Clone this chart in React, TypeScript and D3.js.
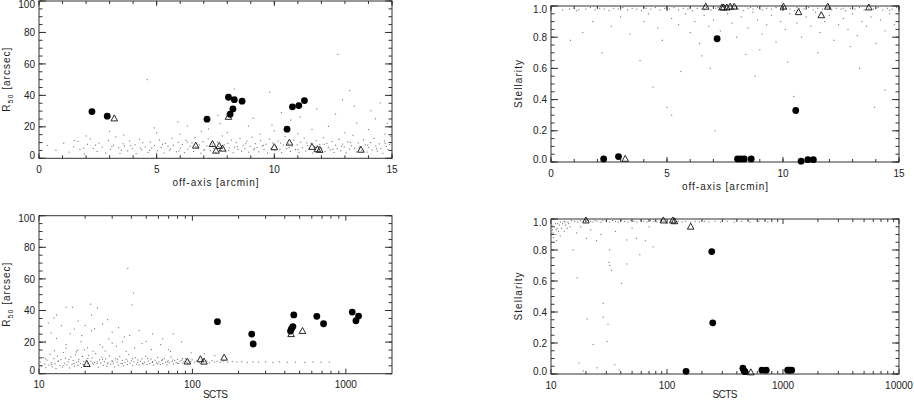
import React from 'react';
import * as d3 from 'd3';

type Pt = [number, number];

// ---------- Panel 1: off-axis vs R50 ----------
const P1_DOTS: Pt[] = [
  [0.35,8.2],[0.72,5.1],[1.05,9.6],[1.28,3.9],[1.47,7.3],[1.66,10.8],[1.74,5.6],[1.93,2.8],[2.06,8.9],[2.18,12.4],[2.31,6.2],[2.47,4.3],[2.55,9.7],[2.68,7.1],[2.83,3.4],[2.95,11.2],[3.04,5.8],[3.17,8.4],[3.26,13.6],[3.39,6.7],[3.44,3.1],[3.58,9.2],[3.63,7.8],[3.77,4.6],[3.85,10.9],[3.96,6.1],[4.08,8.6],[4.13,2.9],[4.27,12.1],[4.36,5.4],[4.41,9.9],[4.52,7.2],[4.64,3.7],[4.73,10.3],[4.79,6.6],[4.91,8.1],[5.03,4.8],[5.12,11.7],[5.19,6.9],[5.31,3.3],[5.37,9.4],[5.48,7.6],[5.55,5.2],[5.66,12.8],[5.71,8.3],[5.84,4.1],[5.92,10.1],[6.01,6.4],[6.09,8.8],[6.18,3.6],[6.24,11.4],[6.33,5.9],[6.42,7.7],[6.5,9.8],[6.57,4.4],[6.63,13.2],[6.74,6.8],[6.81,8.5],[6.88,3.2],[6.97,10.6],[7.04,5.5],[7.13,7.9],[7.19,12.3],[7.28,4.7],[7.35,9.1],[7.43,6.3],[7.51,3.8],[7.58,10.4],[7.64,7.4],[7.73,5.1],[7.79,14.2],[7.87,8.7],[7.94,4.2],[8.02,9.5],[8.09,6.6],[8.17,11.6],[8.25,3.5],[8.31,7.1],[8.38,9.9],[8.46,5.7],[8.54,12.7],[8.61,4.5],[8.68,8.2],[8.75,6.1],[8.83,10.8],[8.91,3.9],[8.97,7.6],[9.05,13.4],[9.12,5.3],[9.19,9.3],[9.27,6.9],[9.34,4.1],[9.42,11.3],[9.49,7.8],[9.56,5.6],[9.64,8.9],[9.71,3.4],[9.79,12.2],[9.86,6.4],[9.93,9.7],[10.02,4.9],[10.09,7.3],[10.16,10.9],[10.24,5.8],[10.31,3.6],[10.38,8.4],[10.46,13.8],[10.53,6.2],[10.6,9.1],[10.68,4.4],[10.75,7.7],[10.83,11.5],[10.9,5.5],[10.97,8.6],[11.05,3.8],[11.12,10.2],[11.19,6.7],[11.27,12.9],[11.34,4.6],[11.41,8.1],[11.49,6.0],[11.56,9.6],[11.63,3.3],[11.71,7.5],[11.78,11.1],[11.86,5.2],[11.93,8.8],[12.01,6.5],[12.08,13.1],[12.16,4.3],[12.23,9.4],[12.3,7.0],[12.38,5.4],[12.45,10.7],[12.53,3.7],[12.6,8.3],[12.67,6.1],[12.75,12.0],[12.82,4.8],[12.9,9.0],[12.97,7.2],[13.05,3.5],[13.12,10.5],[13.2,5.9],[13.27,8.0],[13.34,14.6],[13.42,6.4],[13.49,4.0],[13.57,9.8],[13.64,7.4],[13.72,5.0],[13.79,11.8],[13.86,8.5],[13.94,3.9],[14.01,6.8],[14.09,10.0],[14.16,5.3],[14.24,12.6],[14.31,7.9],[14.38,4.5],[14.46,9.2],[14.53,6.3],[14.61,3.2],[14.68,11.0],[14.76,7.6],[14.83,5.7],[14.9,8.7],[14.96,13.9],
  [5.25,8.9],[5.6,6.0],[5.95,4.6],[6.3,10.3],[6.67,7.3],[7.0,5.1],[7.38,8.0],[7.69,6.7],[8.06,4.9],[8.42,7.4],[8.79,9.3],[9.16,6.1],[9.53,8.2],[9.9,5.4],[10.27,9.7],[10.64,6.8],[11.01,5.6],[11.38,9.9],[11.75,6.9],[12.12,8.9],[12.49,5.8],[12.86,7.7],[13.23,10.1],[13.6,6.6],[13.97,8.4],[14.34,6.0],[14.71,9.5],[3.1,7.5],[3.5,5.0],[3.9,8.0],[4.3,6.5],[4.7,5.0],[2.4,8.4],[1.9,6.4],
  [3.6,14.8],[4.6,50],[4.9,19.3],[5.9,23.1],[6.3,20.4],[6.9,17.2],[7.2,18.6],[7.6,27.3],[7.7,22.1],[8.0,16.4],[8.2,30.2],[8.3,44],[8.9,20.5],[9.1,25.4],[9.4,15.3],[9.8,42],[9.9,21.2],[10.0,17.5],[10.3,29.1],[10.7,24.3],[11.0,15.6],[11.1,26.2],[11.6,18.4],[11.8,31.3],[12.3,20.3],[12.6,28.1],[12.7,66],[12.9,37.2],[13.0,16.2],[13.2,43],[13.4,33.1],[13.5,22.4],[14.0,18.3],[14.1,30.2],[14.3,25.1],[14.5,35.2],[14.7,15.4],[14.8,22.2],[3.0,17.1],[5.0,16.2],[6.0,15.3],[2.0,14.2],[1.5,11.3]
];
const P1_CIRCLES: Pt[] = [[2.25,29.7],[2.9,26.8],[7.14,24.9],[8.05,38.8],[8.3,37.3],[8.63,36.3],[8.24,31.4],[8.12,28.0],[10.54,18.5],[10.77,32.7],[11.04,33.5],[11.28,36.7]];
const P1_TRIANGLES: Pt[] = [[3.2,25.3],[8.05,26.3],[6.66,8.0],[7.37,9.0],[7.52,4.8],[7.66,7.8],[7.8,6.1],[10.0,7.0],[10.64,9.9],[11.6,7.2],[11.83,5.7],[11.93,5.3],[13.68,5.4]];

// ---------- Panel 2: off-axis vs Stellarity ----------
const P2_DOTS: Pt[] = [
  [0.5,0.975],[0.8,0.98],[1.0,0.985],[1.2,0.975],[1.5,0.98],[1.7,0.99],[1.9,0.975],[2.1,0.985],[2.3,0.98],[2.5,0.97],[2.7,0.985],[2.9,0.98],[3.1,0.99],[3.3,0.975],[3.5,0.985],[3.7,0.98],[3.9,0.97],[4.1,0.985],[4.3,0.98],[4.5,0.99],[4.7,0.975],[4.9,0.985],[5.1,0.98],[5.3,0.99],[5.5,0.975],[5.7,0.985],[5.9,0.98],[6.1,0.97],[6.3,0.985],[6.5,0.98],[6.7,0.99],[6.9,0.975],[7.1,0.985],[7.3,0.98],[7.5,0.99],[7.7,0.975],[7.9,0.985],[8.1,0.98],[8.3,0.97],[8.5,0.985],[8.7,0.98],[8.9,0.99],[9.1,0.975],[9.3,0.985],[9.5,0.98],[9.7,0.99],[9.9,0.975],[10.1,0.985],[10.3,0.98],[10.5,0.97],[10.7,0.985],[10.9,0.98],[11.1,0.99],[11.3,0.975],[11.5,0.985],[11.7,0.98],[11.9,0.99],[12.1,0.975],[12.3,0.985],[12.5,0.98],[12.7,0.97],[12.9,0.985],[13.1,0.98],[13.3,0.99],[13.5,0.975],[13.7,0.985],[13.9,0.98],[14.1,0.99],[14.3,0.975],[14.5,0.985],[14.7,0.98],[14.9,0.99],
  [7.2,0.99],[8.0,0.99],[9.0,0.98],[10.0,0.99],[11.0,0.98],[12.0,0.99],[13.0,0.98],[14.0,0.985],[6.0,0.99],[5.0,0.98],[4.0,0.99],[3.0,0.975],[2.0,0.99],[1.1,0.97],[6.6,0.975],[8.6,0.99],[10.6,0.99],[12.6,0.985],[14.6,0.97],
  [0.84,0.78],[1.37,0.83],[2.2,0.70],[3.84,0.65],[4.4,0.48],[5.0,0.35],[5.2,0.30],[5.6,0.58],[6.86,0.60],[7.07,0.20],[8.4,0.69],[10.46,0.42],[13.95,0.35],[14.4,0.46],
  [1.8,0.9],[2.6,0.87],[3.0,0.93],[3.4,0.82],[4.0,0.9],[4.2,0.95],[4.6,0.86],[4.8,0.78],[5.2,0.92],[5.5,0.88],[5.8,0.95],[6.0,0.83],[6.2,0.9],[6.4,0.76],[6.6,0.94],[6.8,0.87],[7.0,0.91],[7.3,0.84],[7.6,0.95],[7.8,0.89],[8.0,0.8],[8.2,0.93],[8.5,0.86],[8.7,0.96],[8.9,0.91],[9.1,0.82],[9.3,0.88],[9.5,0.94],[9.7,0.77],[9.9,0.9],[10.1,0.85],[10.3,0.95],[10.6,0.89],[10.8,0.8],[11.0,0.93],[11.2,0.87],[11.4,0.96],[11.6,0.83],[11.8,0.9],[12.0,0.94],[12.2,0.78],[12.4,0.88],[12.6,0.92],[12.8,0.85],[13.0,0.95],[13.2,0.81],[13.4,0.9],[13.6,0.87],[13.8,0.93],[14.0,0.76],[14.2,0.91],[14.4,0.84],[14.6,0.95],[14.8,0.88],[9.0,0.72],[11.5,0.7],[12.9,0.74],[6.5,0.68],[10.2,0.64],[13.3,0.6],[8.8,0.55]
];
const P2_CIRCLES: Pt[] = [[2.27,0.02],[2.91,0.035],[7.16,0.79],[8.04,0.02],[8.19,0.02],[8.33,0.02],[8.63,0.02],[10.55,0.33],[10.78,0.005],[11.07,0.015],[11.31,0.015]];
const P2_TRIANGLES: Pt[] = [[3.2,0.02],[6.67,0.995],[7.37,0.99],[7.44,0.99],[7.58,0.99],[7.72,0.995],[7.9,0.995],[10.02,0.995],[10.67,0.96],[11.65,0.94],[11.93,0.995],[13.7,0.99]];

// ---------- Panel 3: SCTS vs R50 ----------
const P3_DOTS: Pt[] = [
  [10.2,7.4],[10.4,4.9],[10.7,10.2],[10.9,6.1],[11.1,3.8],[11.3,8.6],[11.6,5.5],[11.8,12.3],[12.0,7.0],[12.2,4.4],[12.5,9.5],[12.7,6.3],[12.9,3.3],[13.2,11.1],[13.4,7.8],[13.7,5.1],[13.9,8.9],[14.2,4.2],[14.4,13.4],[14.7,6.7],[14.9,9.8],[15.2,5.6],[15.5,7.5],[15.8,3.6],[16.1,10.6],[16.4,6.0],[16.7,8.3],[17.0,4.7],[17.3,12.0],[17.6,7.2],[17.9,5.3],[18.2,9.1],[18.6,6.5],[18.9,3.9],[19.2,10.9],[19.6,7.7],[19.9,5.0],[20.3,8.5],[20.7,6.2],[21.0,11.6],[21.4,4.5],[21.8,7.9],[22.2,9.9],[22.6,5.7],[23.0,7.1],[23.4,12.7],[23.9,6.4],[24.3,4.1],[24.8,8.8],[25.2,6.8],[25.7,10.4],[26.2,5.2],[26.7,7.6],[27.2,9.3],[27.7,4.6],[28.2,6.9],[28.8,11.3],[29.3,5.9],[29.9,8.1],[30.5,6.3],[31.1,4.3],[31.7,9.6],[32.3,7.3],[32.9,5.4],[33.6,10.8],[34.2,6.6],[34.9,8.4],[35.6,4.9],[36.3,7.0],[37.0,9.0],[37.7,5.8],[38.5,12.1],[39.2,6.7],[40.0,8.2],[40.8,5.1],[41.6,7.5],[42.4,10.1],[43.3,6.0],[44.1,8.7],[45.0,5.5],[45.9,7.8],[46.8,9.4],[47.7,6.2],[48.7,7.3],[49.6,11.0],[50.6,5.8],[51.6,8.0],[52.7,6.5],[53.7,9.2],[54.8,7.1],[55.9,5.4],[57.0,8.5],[58.2,6.8],[59.3,10.3],[60.5,7.4],[61.7,5.9],[63.0,8.3],[64.2,6.4],[65.5,9.6],[66.8,7.2],[68.2,5.7],[69.5,8.1],[70.9,6.9],[72.4,10.6],[73.8,7.6],[75.3,6.1],[76.8,8.4],[78.4,7.0],[80.0,9.1],[81.6,6.5],[83.2,7.9],[84.9,8.6],[86.6,6.7],[88.3,7.7],[90.1,9.4],[92.0,7.1],[93.8,8.2],[95.7,6.8],[97.6,7.6],[99.6,8.8],[103,7.3],[107,8.1],[111,7.0],[115,8.6],[119,7.5],[124,7.9],[129,6.9],[134,8.3],[139,7.4],[145,7.8],[152,7.2],[160,8.0],[170,7.3],[182,7.7],[195,7.4],[210,7.6],[228,7.2],[248,7.5],[270,7.3],[300,7.4],[335,7.1],[370,7.5],[415,7.2],[470,7.3],[540,7.1],[610,7.4],[690,7.2],[780,7.3],
  [11.0,9.4],[12.1,5.8],[13.3,8.0],[14.5,5.0],[15.7,9.0],[16.9,6.4],[18.1,7.9],[19.4,5.8],[20.8,9.6],[22.4,6.7],[24.0,7.5],[25.9,9.0],[27.9,6.1],[30.1,7.7],[32.5,8.9],[35.0,6.3],[37.8,7.9],[40.7,9.5],[43.9,7.2],[47.3,6.6],[51.0,9.7],[55.0,7.7],[59.3,6.3],[63.9,8.9],[68.9,7.5],[74.3,8.6],[80.0,6.6],[86.3,9.6],[93.0,6.5],[12.6,14.5],[15.0,16.2],[17.5,13.8],[19.8,15.1],[22.5,14.2],[26.0,16.8],
  [11.0,20.4],[11.5,32.1],[12.0,25.8],[12.5,35.3],[13.0,37.2],[13.0,22.3],[14.0,30.4],[15.0,42],[15.0,18.4],[16.0,25.3],[16.5,42],[17.0,28.2],[17.8,14.7],[18.0,33.3],[18.8,20.2],[19.0,24.1],[20.0,30.5],[20.7,16.3],[21.7,44],[22.0,27.2],[22.0,37.1],[23.0,28.4],[24.0,41.6],[25.0,18.2],[26.0,31.4],[27.0,14.3],[28.0,34.2],[28.5,22.1],[30.0,19.3],[30.0,26.2],[32.0,17.4],[33.0,29.1],[35.0,20.3],[36.0,23.2],[37.0,14.1],[37.9,66.7],[39.0,24.2],[40.3,43.5],[41.3,51],[42.0,16.2],[45.0,27.3],[47.0,19.1],[50.0,20.4],[54.0,15.3],[55.0,25.2],[62.0,18.4],[64.0,22.1],[70.0,15.2],[72.0,14.1],[75.0,25.3],[98.0,13.2],[85.0,20.1],[120,12.6],[140,11.4]
];
const P3_CIRCLES: Pt[] = [[145.6,32.9],[243.6,25.1],[249,18.8],[436,27.0],[442,28.4],[452,29.8],[458,37.2],[647,36.3],[716,31.6],[1101,39],[1211,36.5],[1164,33.5]];
const P3_TRIANGLES: Pt[] = [[20.5,6.1],[92.7,7.6],[112.8,9.1],[119,7.6],[161,10.1],[440,25],[522,27]];

// ---------- Panel 4: SCTS vs Stellarity ----------
const P4_DOTS: Pt[] = [
  [13,0.985],[14,0.98],[15,0.99],[16,0.985],[17,0.98],[18,0.99],[19,0.985],[20,0.98],[21,0.99],[22,0.985],[23,0.98],[24,0.99],[25,0.985],[27,0.98],[28,0.99],[30,0.985],[32,0.98],[34,0.99],[36,0.985],[38,0.98],[40,0.99],[43,0.985],[46,0.98],[49,0.99],[52,0.985],[55,0.98],[59,0.99],[63,0.985],[67,0.98],[72,0.99],[77,0.985],[82,0.98],[88,0.99],[94,0.985],[100,0.98],[108,0.985],[116,0.98],[125,0.985],[135,0.98],[145,0.985],[160,0.98],[175,0.985],[190,0.98],[210,0.985],[230,0.98],[260,0.985],[290,0.98],[330,0.985],[380,0.98],[440,0.985],[520,0.98],[620,0.985],[740,0.98],
  [10.3,0.93],[10.5,0.88],[10.7,0.95],[11,0.9],[11.2,0.86],[11.4,0.97],[11.6,0.92],[11.8,0.96],[12,0.89],[12.3,0.94],[12.6,0.97],[13,0.92],[13.4,0.96],[13.8,0.94],[14.2,0.97],[14.6,0.95],[10.2,0.96],[10.4,0.91],[10.9,0.97],[11.3,0.94],[12.1,0.98],[13.2,0.98],[10.6,0.85],[11.1,0.93],
  [16.6,0.91],[20.2,0.875],[24.7,0.86],[32,0.8],[31.5,0.72],[33.2,0.67],[40.6,0.585],[16.8,0.62],[20.5,0.355],[28.2,0.366],[31,0.32],[28.2,0.456],[23.1,0.19],[30.4,0.21],[17.4,0.07],[35.5,0.06],[38.7,0.026],[44.9,0.865],[54.6,0.875],[65,0.86],[45,0.71],[76,0.82],[58.3,0.77],[32.2,0.7],[18,0.95],[22,0.93],[27,0.9],[36,0.92],[50,0.94],[70,0.95],[15.5,0.8],[19,0.02],[25,0.04]
];
const P4_CIRCLES: Pt[] = [[243,0.79],[248,0.33],[146,0.017],[451,0.037],[462,0.02],[470,0.015],[658,0.025],[717,0.025],[1097,0.025],[1140,0.025],[1188,0.025]];
const P4_TRIANGLES: Pt[] = [[20,0.99],[93,0.99],[112,0.99],[116,0.985],[160,0.95],[528,0.01]];

// tick labels
const LIN_X_TICKS = [0, 5, 10, 15];
const R50_TICKS = [0, 20, 40, 60, 80, 100];
const STEL_TICKS = [0, 0.2, 0.4, 0.6, 0.8, 1.0];
const LOG_X3_TICKS = [10, 100, 1000];
const LOG_X4_TICKS = [10, 100, 1000, 10000];

const FONT = '"Liberation Sans", Arial, Helvetica, sans-serif';
const INK = '#222';

type Box = { left: number; right: number; top: number; bottom: number };

function logMinors(lo: number, hi: number) {
  const out: number[] = [];
  for (let d = lo; d < hi; d *= 10) for (let k = 2; k <= 9; k++) if (d * k < hi) out.push(d * k);
  return out;
}
function linMinors(lo: number, hi: number, step: number) {
  const out: number[] = [];
  for (let v = lo; v <= hi + 1e-9; v += step) out.push(+v.toFixed(6));
  return out;
}

const triPath = 'M0,-3.6L3.3,2.4L-3.3,2.4Z';

function Panel(props: {
  box: Box; x: any; y: any; xMajor: number[]; xMinor: number[]; yMajor: number[]; yMinor: number[];
  xFmt: (v: number) => string; yFmt: (v: number) => string; xTitle: string; yTitle: React.ReactNode; yTitleLen: number; xTitleLen: number; xTitleOff: number;
  dots: Pt[]; circles: Pt[]; tris: Pt[];
}) {
  const { box, x, y } = props;
  const yMaj = 7, yMin = 3.5, xMaj = 5, xMin = 3;
  const [ylo, yhi] = y.domain();
  const cy = (box.top + box.bottom) / 2;
  const cx = (box.left + box.right) / 2;
  return (
    <g>
      <g fill="#777">
        {props.dots.map((d, i) => (
          <rect key={i} x={x(d[0]) - 0.55} y={y(d[1]) - 0.55} width={1.1} height={1.1} />
        ))}
      </g>
      <rect x={box.left} y={box.top} width={box.right - box.left} height={box.bottom - box.top} fill="none" stroke="#333" strokeWidth={1} />
      <g stroke="#333" strokeWidth={1}>
        {props.xMinor.map((v, i) => (
          <g key={'xm' + i}>
            <line x1={x(v)} x2={x(v)} y1={box.bottom} y2={box.bottom - xMin} />
            <line x1={x(v)} x2={x(v)} y1={box.top} y2={box.top + xMin} />
          </g>
        ))}
        {props.xMajor.map((v, i) => (
          <g key={'xM' + i}>
            <line x1={x(v)} x2={x(v)} y1={box.bottom} y2={box.bottom - xMaj} />
            <line x1={x(v)} x2={x(v)} y1={box.top} y2={box.top + xMaj} />
          </g>
        ))}
        {props.yMinor.map((v, i) => (
          <g key={'ym' + i}>
            <line y1={y(v)} y2={y(v)} x1={box.left} x2={box.left + yMin} />
            <line y1={y(v)} y2={y(v)} x1={box.right} x2={box.right - yMin} />
          </g>
        ))}
        {props.yMajor.map((v, i) => (
          <g key={'yM' + i}>
            <line y1={y(v)} y2={y(v)} x1={box.left} x2={box.left + yMaj} />
            <line y1={y(v)} y2={y(v)} x1={box.right} x2={box.right - yMaj} />
          </g>
        ))}
      </g>
      <g fontFamily={FONT} fontSize={10} fill={INK}>
        {props.xMajor.map((v, i) => (
          <text key={'xl' + i} x={x(v)} y={box.bottom + 14.5} textAnchor="middle">{props.xFmt(v)}</text>
        ))}
        {props.yMajor.map((v, i) => {
          let off = 0;
          if (Math.abs(v - ylo) < 1e-9) off = -3;
          if (Math.abs(v - yhi) < 1e-9) off = 3;
          return (
            <text key={'yl' + i} x={box.left - 4} y={y(v) + off + 3.6} textAnchor="end">{props.yFmt(v)}</text>
          );
        })}
        <text x={cx} y={box.bottom + props.xTitleOff} textAnchor="middle" textLength={props.xTitleLen} lengthAdjust="spacing">{props.xTitle}</text>
        <text transform={`translate(${box.left - 29},${cy}) rotate(-90)`} textAnchor="middle" textLength={props.yTitleLen} lengthAdjust="spacing">{props.yTitle}</text>
      </g>
      <g fill="#000">
        {props.circles.map((d, i) => (
          <circle key={i} cx={x(d[0])} cy={y(d[1])} r={3.4} />
        ))}
      </g>
      <g fill="none" stroke="#111" strokeWidth={0.9}>
        {props.tris.map((d, i) => (
          <path key={i} d={triPath} transform={`translate(${x(d[0])},${y(d[1])})`} />
        ))}
      </g>
    </g>
  );
}

export default function App() {
  const b1: Box = { left: 39, right: 392, top: 1, bottom: 158.3 };
  const b2: Box = { left: 551, right: 899, top: 6, bottom: 162 };
  const b3: Box = { left: 39, right: 392, top: 215.7, bottom: 373.7 };
  const b4: Box = { left: 551, right: 899, top: 219, bottom: 374 };

  const x1 = d3.scaleLinear().domain([0, 15]).range([b1.left, b1.right]);
  const y1 = d3.scaleLinear().domain([0, 100]).range([b1.bottom, b1.top]);
  const x2 = d3.scaleLinear().domain([0, 15]).range([b2.left, b2.right]);
  const y2 = d3.scaleLinear().domain([0, 1]).range([b2.bottom, b2.top]);
  const x3 = d3.scaleLog().domain([10, 2000]).range([b3.left, b3.right]);
  const y3 = d3.scaleLinear().domain([0, 100]).range([b3.bottom, b3.top]);
  const x4 = d3.scaleLog().domain([10, 10000]).range([b4.left, b4.right]);
  const y4 = d3.scaleLinear().domain([0, 1]).range([b4.bottom, b4.top]);

  const r50Title = (
    <>
      <tspan>R</tspan>
      <tspan fontSize={7} dy={3}>50</tspan>
      <tspan dy={-3}> [arcsec]</tspan>
    </>
  );
  const fmtInt = (v: number) => String(v);
  const fmt1 = (v: number) => v.toFixed(1);

  return (
    <svg width={914} height={401} style={{ position: 'absolute', left: 0, top: 0, background: '#fff' }}>
      <rect x={0} y={0} width={914} height={401} fill="#fff" />
      <Panel box={b1} x={x1} y={y1} xMajor={LIN_X_TICKS} xMinor={linMinors(0, 15, 1)} yMajor={R50_TICKS} yMinor={linMinors(0, 100, 5)}
        xFmt={fmtInt} yFmt={fmtInt} xTitle="off-axis [arcmin]" xTitleLen={86} xTitleOff={28} yTitle={r50Title} yTitleLen={64}
        dots={P1_DOTS} circles={P1_CIRCLES} tris={P1_TRIANGLES} />
      <Panel box={b2} x={x2} y={y2} xMajor={LIN_X_TICKS} xMinor={linMinors(0, 15, 1)} yMajor={STEL_TICKS} yMinor={linMinors(0, 1, 0.05)}
        xFmt={fmtInt} yFmt={fmt1} xTitle="off-axis [arcmin]" xTitleLen={86} xTitleOff={28} yTitle="Stellarity" yTitleLen={48}
        dots={P2_DOTS} circles={P2_CIRCLES} tris={P2_TRIANGLES} />
      <Panel box={b3} x={x3} y={y3} xMajor={LOG_X3_TICKS} xMinor={logMinors(10, 2000)} yMajor={R50_TICKS} yMinor={linMinors(0, 100, 5)}
        xFmt={fmtInt} yFmt={fmtInt} xTitle="SCTS" xTitleLen={25} xTitleOff={24.5} yTitle={r50Title} yTitleLen={64}
        dots={P3_DOTS} circles={P3_CIRCLES} tris={P3_TRIANGLES} />
      <Panel box={b4} x={x4} y={y4} xMajor={LOG_X4_TICKS} xMinor={logMinors(10, 10000)} yMajor={STEL_TICKS} yMinor={linMinors(0, 1, 0.05)}
        xFmt={fmtInt} yFmt={fmt1} xTitle="SCTS" xTitleLen={25} xTitleOff={24} yTitle="Stellarity" yTitleLen={48}
        dots={P4_DOTS} circles={P4_CIRCLES} tris={P4_TRIANGLES} />
    </svg>
  );
}
